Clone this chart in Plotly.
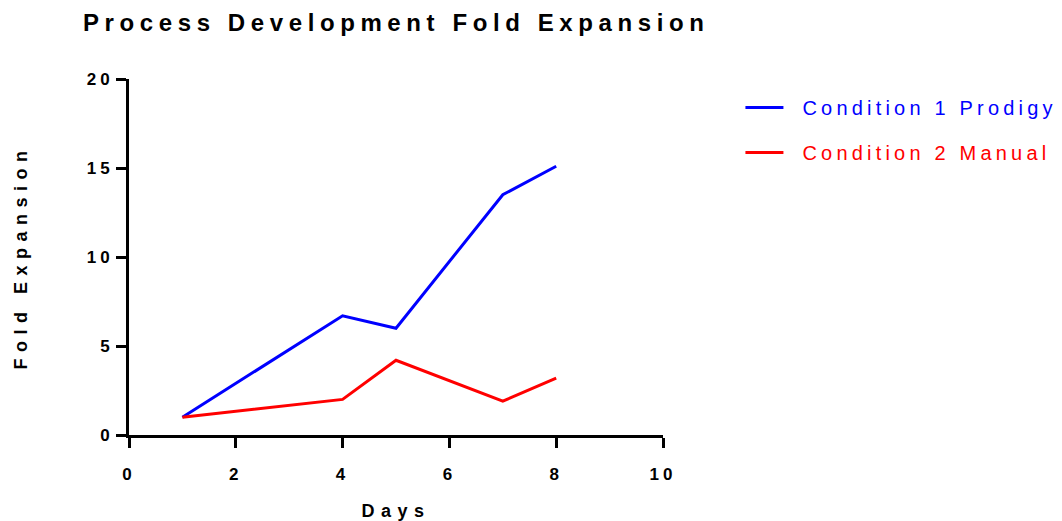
import plotly.graph_objects as go

days = [1, 4, 5, 7, 8]
prodigy = [1.0, 6.7, 6.0, 13.5, 15.1]
manual = [1.0, 2.0, 4.2, 1.9, 3.2]
series_names = ["Condition 1 Prodigy", "Condition 2 Manual"]
x_ticks = [0, 2, 4, 6, 8, 10]
y_ticks = [0, 5, 10, 15, 20]

FONT = "Liberation Sans, Arial, sans-serif"

fig = go.Figure()
fig.add_trace(go.Scatter(x=days, y=prodigy, mode="lines", name=series_names[0],
                         legendgroup="a",
                         line=dict(color="#0000FF", width=3)))
fig.add_trace(go.Scatter(x=days, y=manual, mode="lines", name=series_names[1],
                         legendgroup="b",
                         line=dict(color="#FF0000", width=3)))

fig.update_layout(
    width=1062, height=521,
    margin=dict(l=129, r=399, t=79, b=86),
    paper_bgcolor="white", plot_bgcolor="white",
    title=dict(text="<b>Process Development Fold Expansion</b>",
               x=83/1062, xref="container", xanchor="left",
               y=1-23/521, yref="container", yanchor="middle",
               font=dict(family=FONT, size=24, color="black")),
    showlegend=True,
    legend=dict(x=1.145, xanchor="left", y=0.975, yanchor="top",
                tracegroupgap=16, itemwidth=38,
                font=dict(family=FONT, size=20),
                bgcolor="rgba(0,0,0,0)", borderwidth=0),
)
fig.update_xaxes(range=[0, 10], tickvals=x_ticks, ticktext=[f"<b>{v}</b>" for v in x_ticks],
                 showgrid=False, zeroline=False, showline=True, linecolor="black", linewidth=3,
                 ticks="outside", ticklen=10, tickwidth=3, tickcolor="black",
                 tickfont=dict(family=FONT, size=17, color="black"),
                 ticklabelstandoff=12, automargin=False,
                 title=dict(text="<b>Days</b>", font=dict(family=FONT, size=18, color="black"),
                            standoff=28))
fig.update_yaxes(range=[0, 20], tickvals=y_ticks, ticktext=[f"<b>{v}</b>" for v in y_ticks],
                 showgrid=False, zeroline=False, showline=True, linecolor="black", linewidth=3,
                 ticks="outside", ticklen=10, tickwidth=3, tickcolor="black",
                 tickfont=dict(family=FONT, size=17, color="black"),
                 ticklabelstandoff=2, automargin=False,
                 title=dict(text="<b>Fold Expansion</b>", font=dict(family=FONT, size=18, color="black"),
                            standoff=60))

post = """
document.body.style.margin = '0';
document.body.style.overflow = 'hidden';
var gd = document.getElementById('{plot_id}');
function ls(sel, v) { gd.querySelectorAll(sel).forEach(function(t){ t.style.letterSpacing = v; }); }
ls('.gtitle', '5.6px');
ls('.xtick text', '4px');
ls('.ytick text', '4px');
ls('.xtitle', '6.5px');
ls('.ytitle', '6.5px');
ls('.legendtext', '4.2px');
gd.querySelectorAll('.ytick text').forEach(function(t){
  t.setAttribute('x', parseFloat(t.getAttribute('x') || 0) + 3);
});
gd.querySelectorAll('.legend [clip-path]').forEach(function(e){ e.removeAttribute('clip-path'); });
gd.querySelectorAll('.legendtext').forEach(function(t, i){
  t.style.fill = i == 0 ? '#0000FF' : '#FF0000';
  t.setAttribute('x', parseFloat(t.getAttribute('x') || 0) + 14);
});
"""

fig.write_html("out.html", post_script=post, config={"displayModeBar": False})
